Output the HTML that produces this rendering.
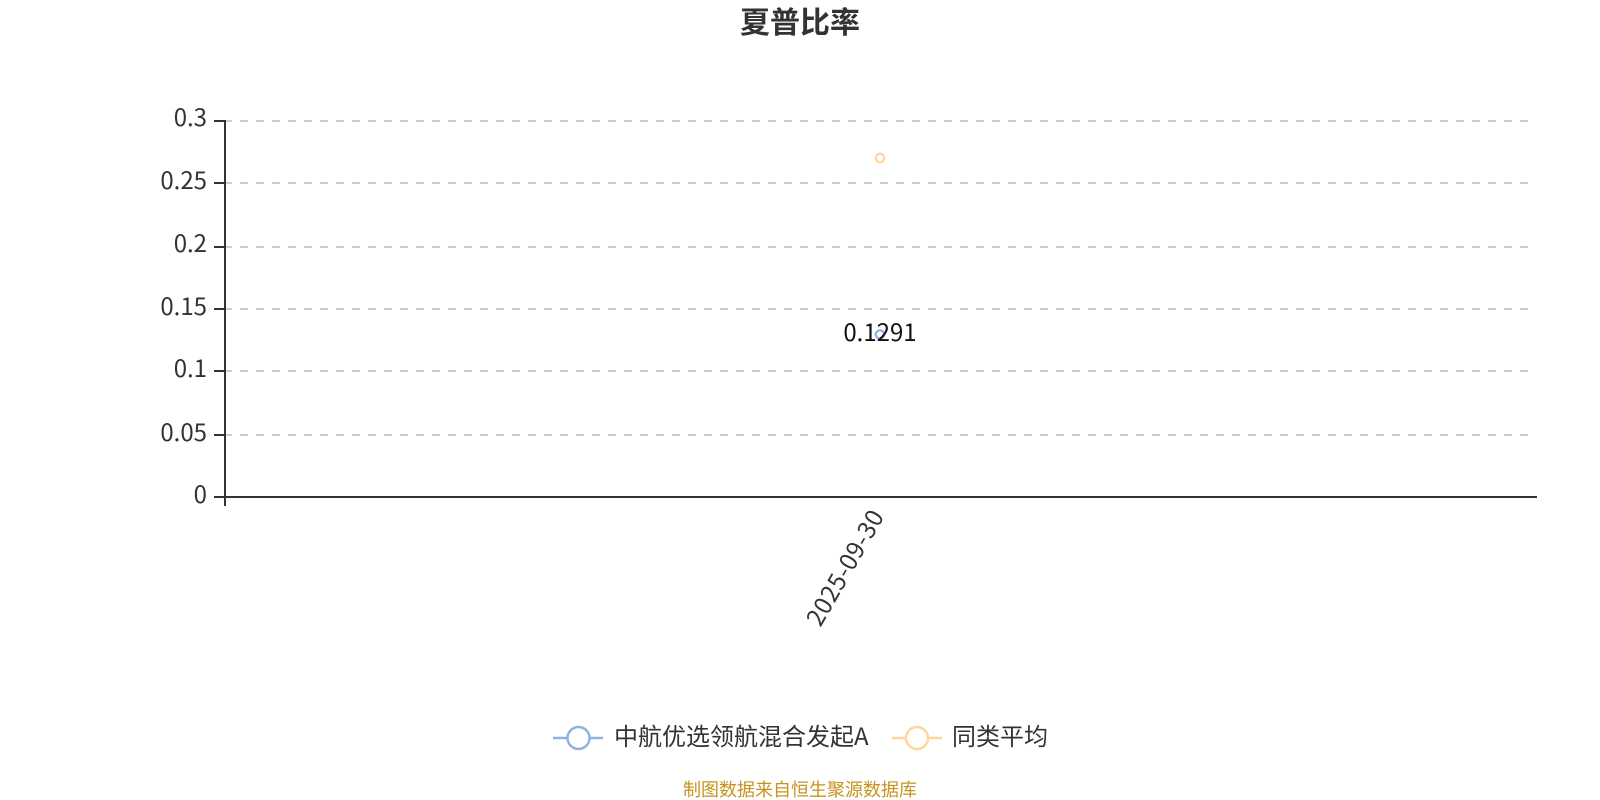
<!DOCTYPE html>
<html lang="zh">
<head>
<meta charset="utf-8">
<title>夏普比率</title>
<style>
html,body{margin:0;padding:0;background:#fff;width:1600px;height:800px;overflow:hidden}
svg{display:block}
text{font-family:"Noto Sans CJK SC","Liberation Sans",sans-serif}
</style>
</head>
<body>
<svg width="1600" height="800" viewBox="0 0 1600 800" xmlns="http://www.w3.org/2000/svg">
<rect width="1600" height="800" fill="#fff"/>
<text x="800" y="33" font-size="30" font-weight="700" fill="#333" text-anchor="middle">夏普比率</text>

<g stroke="#ccc" stroke-width="2" stroke-dasharray="8 8" fill="none">
<path d="M224 121H1528"/>
<path d="M224 183H1528"/>
<path d="M224 247H1528"/>
<path d="M224 309H1528"/>
<path d="M224 371H1528"/>
<path d="M224 435H1528"/>
</g>

<g stroke="#333" stroke-width="2" fill="none">
<path d="M225 120V506"/>
<path d="M214 497H1537"/>
<path d="M214 121H225"/>
<path d="M214 183H225"/>
<path d="M214 247H225"/>
<path d="M214 309H225"/>
<path d="M214 371H225"/>
<path d="M214 435H225"/>
</g>

<g font-size="24" fill="#333" text-anchor="end">
<text x="207" y="126">0.3</text>
<text x="207" y="189">0.25</text>
<text x="207" y="252">0.2</text>
<text x="207" y="315">0.15</text>
<text x="207" y="377">0.1</text>
<text x="207" y="441">0.05</text>
<text x="207" y="503">0</text>
</g>

<text font-size="24" fill="#333" text-anchor="end" letter-spacing="0.6" transform="translate(885 516) rotate(-60)">2025-09-30</text>

<circle cx="880" cy="158" r="4.2" fill="#fff" stroke="#ffd699" stroke-width="2.2"/>
<circle cx="880" cy="334.5" r="4.2" fill="#fff" stroke="#8fb0e0" stroke-width="2.2"/>
<text x="880" y="341" font-size="24" fill="#111" text-anchor="middle">0.1291</text>

<path d="M553 738H603" stroke="#8fb0e0" stroke-width="2.4"/>
<circle cx="578.5" cy="738" r="11" fill="#fff" stroke="#8fb0e0" stroke-width="2.4"/>
<text x="614" y="745" font-size="24" fill="#333">中航优选领航混合发起A</text>

<path d="M892 738H942" stroke="#ffd699" stroke-width="2.4"/>
<circle cx="917" cy="738" r="11" fill="#fff" stroke="#ffd699" stroke-width="2.4"/>
<text x="952" y="745" font-size="24" fill="#333">同类平均</text>

<text x="800" y="796" font-size="18" fill="#c8921e" text-anchor="middle">制图数据来自恒生聚源数据库</text>
</svg>
</body>
</html>
